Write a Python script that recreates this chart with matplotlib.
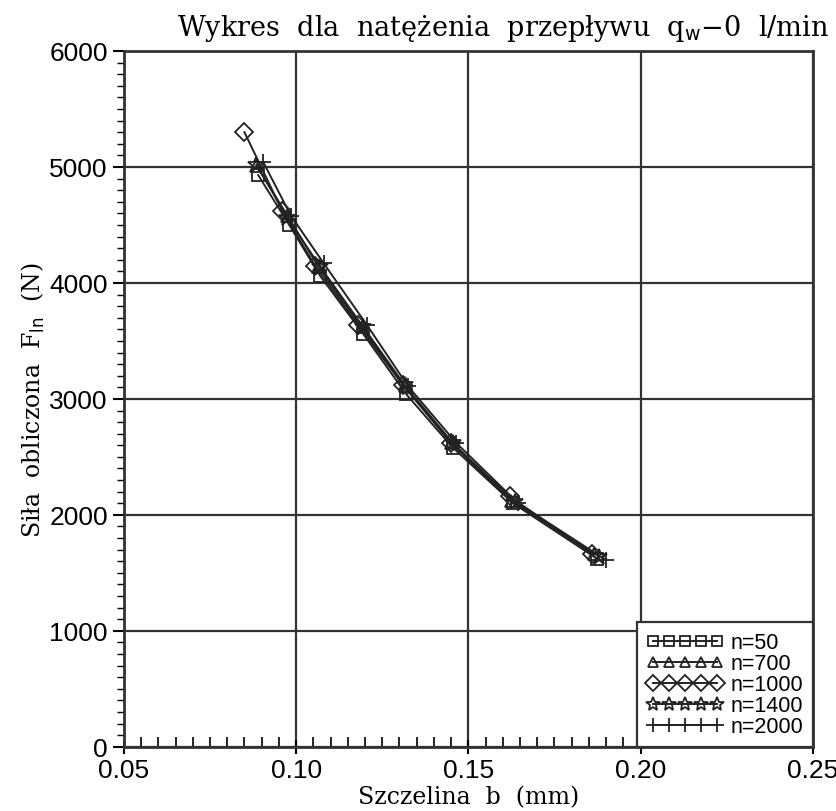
import matplotlib
matplotlib.use("Agg")
import matplotlib.pyplot as plt
from matplotlib.ticker import MultipleLocator

# szczelina b (mm) i siła obliczona F_ln (N) dla kolejnych prędkości obrotowych
b_n50 = [0.0890, 0.0980, 0.1070, 0.1195, 0.1320, 0.1455, 0.1630, 0.1875]
F_n50 = [4930, 4500, 4060, 3560, 3040, 2580, 2100, 1620]

b_n700 = [0.0885, 0.0975, 0.1065, 0.1190, 0.1315, 0.1450, 0.1625, 0.1865]
F_n700 = [5010, 4580, 4140, 3620, 3110, 2620, 2120, 1660]

b_n1000 = [0.0850, 0.0960, 0.1055, 0.1180, 0.1310, 0.1450, 0.1620, 0.1860]
F_n1000 = [5300, 4620, 4150, 3640, 3120, 2620, 2160, 1660]

b_n1400 = [0.0885, 0.0975, 0.1070, 0.1195, 0.1315, 0.1455, 0.1635, 0.1880]
F_n1400 = [5020, 4560, 4140, 3620, 3120, 2620, 2110, 1640]

b_n2000 = [0.0905, 0.0985, 0.1080, 0.1205, 0.1325, 0.1465, 0.1645, 0.1900]
F_n2000 = [5040, 4580, 4170, 3640, 3110, 2620, 2100, 1610]

labels = ["n=50", "n=700", "n=1000", "n=1400", "n=2000"]
markers = ["s", "^", "D", "*", "+"]

fig = plt.figure(figsize=(8.37, 8.12), dpi=100)
ax = fig.add_axes([0.148, 0.079, 0.823, 0.857])

series = [(b_n50, F_n50), (b_n700, F_n700), (b_n1000, F_n1000),
          (b_n1400, F_n1400), (b_n2000, F_n2000)]
for (b, F), lab, m in zip(series, labels, markers):
    ms = 12 if m in ("*", "+") else 9
    ax.plot(b, F, color="#222222", lw=1.4, marker=m, ms=ms,
            mfc="none", mec="#222222", mew=1.3, label=lab)

ax.set_xlim(0.05, 0.25)
ax.set_ylim(0, 6000)
ax.xaxis.set_major_locator(MultipleLocator(0.05))
ax.xaxis.set_minor_locator(MultipleLocator(0.005))
ax.yaxis.set_major_locator(MultipleLocator(1000))
ax.yaxis.set_minor_locator(MultipleLocator(100))
ax.set_xticklabels([f"{v:.2f}" for v in ax.get_xticks()])

ax.grid(True, which="major", color="#333333", lw=1.6)
for s in ax.spines.values():
    s.set_color("#333333")
    s.set_linewidth(2)

ax.tick_params(axis="x", which="major", direction="inout", length=10,
               width=1.5, labelsize=19, pad=3)
ax.tick_params(axis="x", which="minor", direction="in", length=7, width=1.2)
ax.tick_params(axis="y", which="major", direction="out", length=8,
               width=1.5, labelsize=19)
ax.tick_params(axis="y", which="minor", direction="out", length=5, width=1.0)
for t in ax.get_xticklabels() + ax.get_yticklabels():
    t.set_family("Liberation Sans")

ax.set_xlabel("Szczelina  b  (mm)", family="DejaVu Serif", fontsize=17,
              labelpad=2)
ax.set_ylabel("Siła  obliczona  F$_{\\mathrm{ln}}$  (N)", family="DejaVu Serif",
              fontsize=17, labelpad=2)

fig.text(0.99, 0.965, "Wykres  dla  natężenia  przepływu  q$_{\\mathrm{w}}$−0  l/min",
         family="DejaVu Serif", fontsize=19.5, ha="right", va="center")

leg = ax.legend(loc="lower right", numpoints=5, handlelength=3.6,
                borderaxespad=0, fancybox=False, framealpha=1,
                edgecolor="#333333", labelspacing=0.0,
                handletextpad=0.3, markerscale=0.85, borderpad=0.45,
                prop={"family": "Liberation Sans", "size": 15.5})
leg.get_frame().set_linewidth(1.6)

fig.savefig("out.png", dpi=100)
